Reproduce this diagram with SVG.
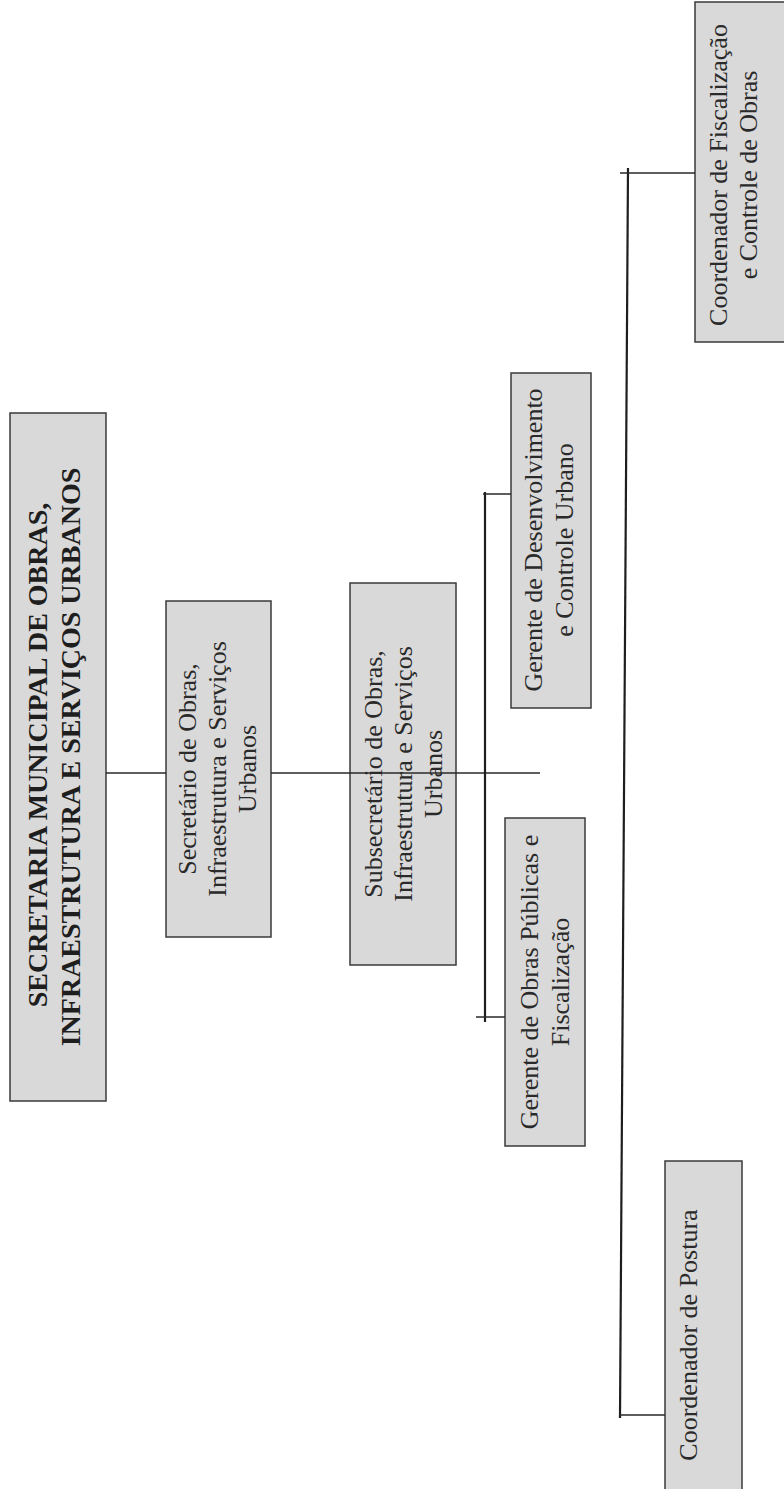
<svg xmlns="http://www.w3.org/2000/svg" width="784" height="1489" viewBox="0 0 784 1489">
<style>
.box{fill:#d9d9d9;stroke:#3a3a3a;stroke-width:1.5}
.t{font-family:"Liberation Serif","Times New Roman",serif;font-size:26px;fill:#2a2a2a;text-anchor:middle}
.b{font-family:"Liberation Serif","Times New Roman",serif;font-size:28px;font-weight:bold;fill:#1e1e1e;text-anchor:middle}
.ln{fill:none;stroke:#2a2a2a;stroke-width:1.5}
.bar{fill:none;stroke:#1e1e1e;stroke-width:2.2}
</style>
<rect x="0" y="0" width="784" height="1489" fill="#ffffff"/>
<g id="n-secretaria">
<rect class="box" x="10" y="413" width="96" height="688"/>
<text class="b" transform="translate(47,755) rotate(-90)">SECRETARIA MUNICIPAL DE OBRAS,</text>
<text class="b" transform="translate(80,757) rotate(-90)">INFRAESTRUTURA E SERVIÇOS URBANOS</text>
</g>
<g id="n-secretario">
<rect class="box" x="166" y="601" width="105" height="336"/>
<text class="t" transform="translate(196,769) rotate(-90)">Secretário de Obras,</text>
<text class="t" transform="translate(226,769) rotate(-90)">Infraestrutura e Serviços</text>
<text class="t" transform="translate(256,769) rotate(-90)">Urbanos</text>
</g>
<g id="n-subsecretario">
<rect class="box" x="350" y="583" width="106" height="382"/>
<text class="t" transform="translate(382,774) rotate(-90)">Subsecretário de Obras,</text>
<text class="t" transform="translate(412,774) rotate(-90)">Infraestrutura e Serviços</text>
<text class="t" transform="translate(442,774) rotate(-90)">Urbanos</text>
</g>
<g id="n-gerente-desenv">
<rect class="box" x="511" y="373" width="80" height="335"/>
<text class="t" transform="translate(542,540) rotate(-90)">Gerente de Desenvolvimento</text>
<text class="t" transform="translate(573,540) rotate(-90)">e Controle Urbano</text>
</g>
<g id="n-gerente-obras">
<rect class="box" x="505" y="818" width="80" height="328"/>
<text class="t" transform="translate(538,982) rotate(-90)">Gerente de Obras Públicas e</text>
<text class="t" transform="translate(569,982) rotate(-90)">Fiscalização</text>
</g>
<g id="n-coord-fiscalizacao">
<rect class="box" x="695" y="2" width="100" height="340"/>
<text class="t" transform="translate(727,175) rotate(-90)">Coordenador de Fiscalização</text>
<text class="t" transform="translate(757,175) rotate(-90)">e Controle de Obras</text>
</g>
<g id="n-coord-postura">
<rect class="box" x="665" y="1161" width="77" height="340"/>
<text class="t" transform="translate(697,1335) rotate(-90)">Coordenador de Postura</text>
</g>
<g id="connectors">
<path class="ln" d="M106,773 H166 M271,773 H540"/>
<path class="bar" d="M485,492 V1022"/>
<path class="ln" d="M483,494 H511 M476,1017 H505"/>
<path class="bar" d="M628,168 L620,1418"/>
<path class="ln" d="M620,173 H695 M619,1415 H665"/>
</g>
</svg>
